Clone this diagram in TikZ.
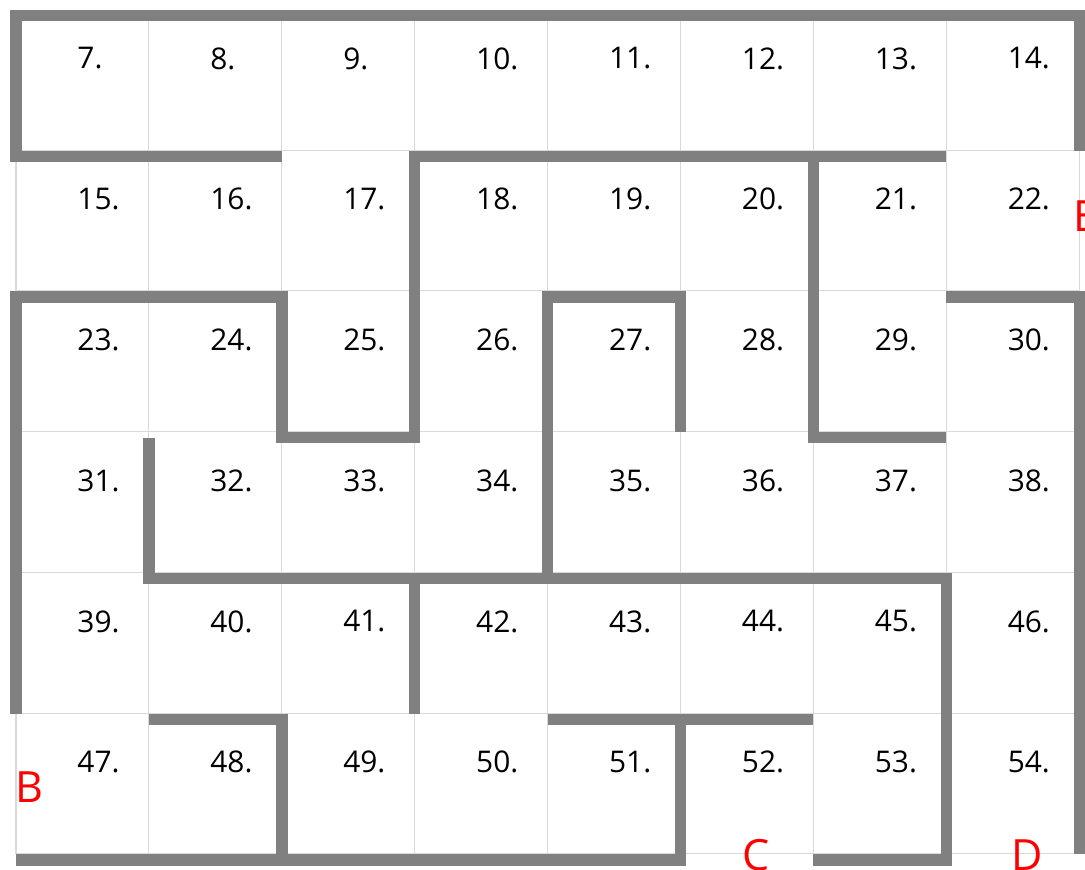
\documentclass[tikz,border=0pt]{standalone}
\usepackage{fontspec}
\setmainfont{Open Sans}
\usepackage{tikz}
\definecolor{wallgray}{RGB}{128,128,128}
\definecolor{gridgray}{RGB}{217,217,217}
\definecolor{gatered}{RGB}{255,0,0}

\begin{document}
\begin{tikzpicture}[x=2.658cm, y=-2.815cm,
    wall/.style={wallgray, line width=6.5pt},
    thin/.style={gridgray, line width=0.6pt},
    cellnum/.style={anchor=west, inner sep=0pt, font=\fontsize{17}{20}\selectfont},
    gate/.style={inner sep=0pt, text=gatered, font=\fontsize{24.5}{29}\selectfont}]
  \useasboundingbox (-0.1204,-0.1101) rectangle (8.0436,6.0710);
  \fill[white] (-0.1204,-0.1101) rectangle (8.0436,6.0710);
  \foreach \i in {0,...,8}
    \draw[thin] (\i,0) -- (\i,5.957);
  \foreach \j in {1,...,6}
    \draw[thin] (0,\j-0.043) -- (8,\j-0.043);
  \foreach \r in {0,...,5}
    \foreach \c in {0,...,7} {
      \pgfmathtruncatemacro\n{7+8*\r+\c}
      \node[cellnum] (c\n) at (\c+0.46,\r+0.305) {\n.};
    }
  \draw[wall] (2,1) -- (0,1) -- (0,0) -- (8,0) -- (8,0.96);
  \draw[wall] (0,4.96) -- (0,2) -- (2,2) -- (2,3) -- (3,3) -- (3,1) -- (7,1);
  \draw[wall] (6,1) -- (6,3) -- (7,3);
  \draw[wall] (7,2) -- (8,2) -- (8,5.96);
  \draw[wall] (4,4) -- (4,2) -- (5,2) -- (5,2.96);
  \draw[wall] (1,3) -- (1,4) -- (7,4) -- (7,6) -- (6,6);
  \draw[wall] (3,4) -- (3,4.96);
  \draw[wall] (1,5) -- (2,5) -- (2,6);
  \draw[wall] (0,6) -- (5,6) -- (5,5);
  \draw[wall] (4,5) -- (6,5);
  \node[gate] (gateB) at (0.098,5.485) {B};
  \node[gate] (gateC) at (5.568,5.964) {C};
  \node[gate] (gateD) at (7.607,5.964) {D};
  \node[gate] (gateE) at (8.05,1.428) {E};
\end{tikzpicture}
\end{document}
